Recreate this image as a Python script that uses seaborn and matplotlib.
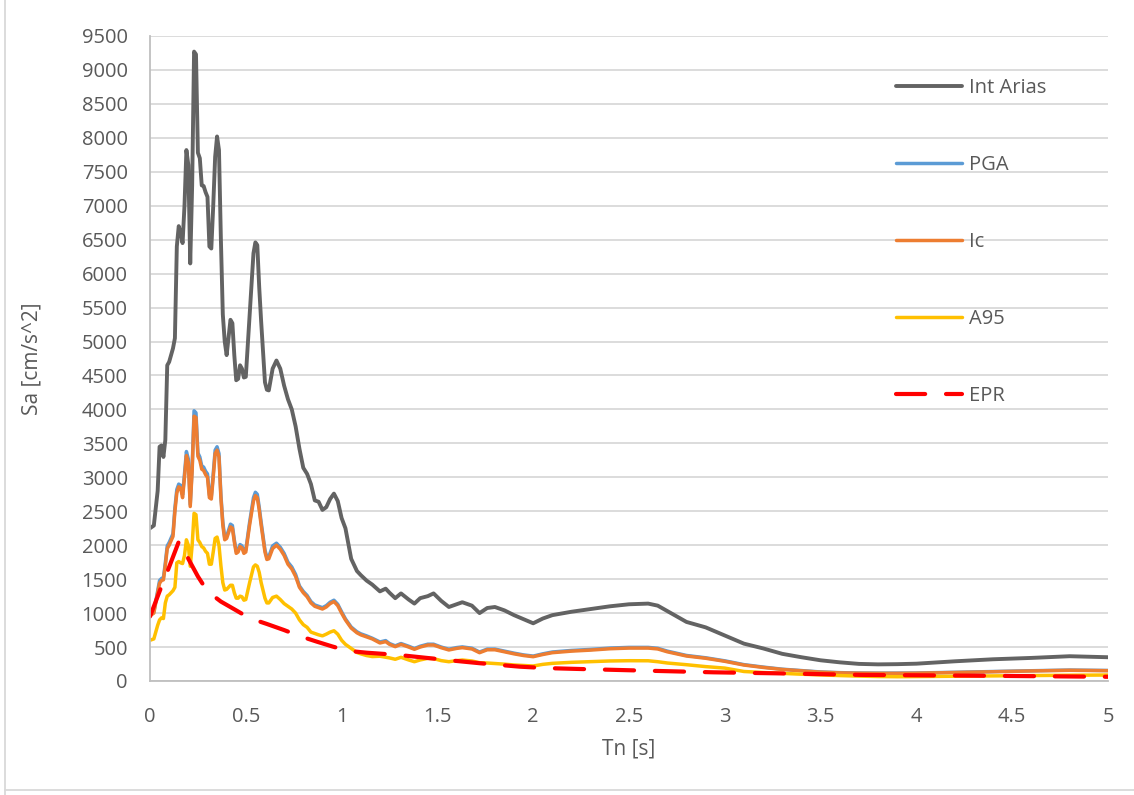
import matplotlib
matplotlib.use("Agg")
import matplotlib.pyplot as plt
import seaborn as sns
from matplotlib.lines import Line2D

# Spectral acceleration vs. period
Tn = [0, 0.02, 0.04, 0.05, 0.06, 0.07, 0.08, 0.09, 0.10, 0.12, 0.13, 0.14, 0.15, 0.16,
      0.17, 0.18, 0.19, 0.20, 0.21, 0.22, 0.23, 0.24, 0.25, 0.26, 0.27, 0.28, 0.29,
      0.30, 0.31, 0.32, 0.33, 0.34, 0.35, 0.36, 0.37, 0.38, 0.39, 0.40, 0.42, 0.43,
      0.44, 0.45, 0.46, 0.47, 0.48, 0.49, 0.50, 0.52, 0.54, 0.55, 0.56, 0.57, 0.58,
      0.60, 0.61, 0.62, 0.64, 0.66, 0.68, 0.70, 0.72, 0.74, 0.76, 0.78, 0.80, 0.82,
      0.84, 0.86, 0.88, 0.90, 0.92, 0.94, 0.96, 0.98, 1.00, 1.02, 1.05, 1.08, 1.10,
      1.13, 1.16, 1.20, 1.23, 1.25, 1.28, 1.31, 1.35, 1.38, 1.41, 1.45, 1.48, 1.52,
      1.56, 1.60, 1.63, 1.68, 1.72, 1.76, 1.80, 1.85, 1.90, 1.95, 2.00, 2.05, 2.10,
      2.20, 2.30, 2.40, 2.50, 2.60, 2.65, 2.70, 2.80, 2.90, 3.00, 3.10, 3.20, 3.30,
      3.40, 3.50, 3.60, 3.70, 3.80, 3.90, 4.00, 4.20, 4.40, 4.60, 4.80, 5.00]

int_arias = [2250, 2290, 2800, 3450, 3470, 3300, 3550, 4650, 4700, 4900, 5050, 6400, 6700,
             6600, 6450, 7000, 7820, 7600, 6150, 7300, 9270, 9230, 7780, 7700, 7300, 7290,
             7200, 7130, 6400, 6370, 7000, 7720, 8020, 7820, 6500, 5400, 5000, 4800, 5320,
             5270, 4800, 4430, 4450, 4650, 4600, 4470, 4480, 5400, 6300, 6460, 6420, 5800,
             5300, 4400, 4290, 4280, 4600, 4720, 4600, 4350, 4150, 4000, 3750, 3420, 3140,
             3050, 2900, 2660, 2640, 2520, 2560, 2680, 2760, 2650, 2400, 2250, 1800, 1620,
             1560, 1480, 1420, 1320, 1360, 1300, 1220, 1290, 1200, 1140, 1220, 1250, 1290,
             1180, 1090, 1130, 1160, 1110, 1000, 1075, 1090, 1040, 970, 910, 850, 920, 970,
             1020, 1060, 1100, 1130, 1140, 1110, 1030, 870, 790, 670, 550, 480, 400, 350,
             305, 275, 252, 245, 248, 255, 290, 320, 340, 365, 350]

pga = [980, 1020, 1330, 1480, 1510, 1520, 1740, 1990, 2040, 2170, 2550, 2820, 2900, 2880,
       2740, 3050, 3380, 3270, 2600, 3150, 3980, 3950, 3360, 3300, 3170, 3150, 3090, 3050,
       2740, 2720, 3050, 3400, 3450, 3350, 2740, 2340, 2110, 2130, 2310, 2290, 2080, 1910,
       1930, 2010, 1990, 1910, 1930, 2340, 2700, 2780, 2750, 2560, 2340, 1930, 1820, 1830,
       1990, 2030, 1970, 1880, 1750, 1680, 1570, 1400, 1320, 1260, 1170, 1120, 1100, 1080,
       1110, 1160, 1190, 1130, 1020, 915, 795, 725, 695, 665, 630, 575, 595, 552, 518, 552,
       512, 478, 512, 542, 542, 500, 468, 492, 502, 483, 427, 470, 470, 440, 410, 384, 367,
       400, 427, 450, 465, 485, 495, 495, 482, 440, 376, 342, 297, 241, 205, 174, 154, 133,
       123, 118, 116, 116, 118, 128, 140, 151, 161, 155]

ic = [960, 1000, 1300, 1440, 1480, 1490, 1700, 1950, 2000, 2130, 2500, 2770, 2860, 2840,
      2700, 3000, 3320, 3220, 2570, 3100, 3900, 3880, 3310, 3250, 3120, 3100, 3040, 3000,
      2700, 2680, 3000, 3350, 3400, 3300, 2700, 2300, 2080, 2100, 2270, 2250, 2050, 1880,
      1900, 1980, 1960, 1880, 1900, 2300, 2650, 2730, 2700, 2520, 2300, 1900, 1790, 1800,
      1950, 2000, 1940, 1850, 1720, 1650, 1540, 1380, 1300, 1240, 1150, 1100, 1080, 1060,
      1090, 1140, 1170, 1110, 1000, 900, 780, 710, 680, 650, 620, 560, 580, 540, 506, 540,
      500, 467, 500, 530, 530, 490, 457, 480, 491, 472, 417, 460, 460, 430, 400, 375, 358,
      390, 417, 440, 455, 475, 485, 485, 472, 430, 368, 335, 290, 235, 200, 170, 150, 130,
      120, 115, 113, 113, 115, 125, 137, 148, 158, 152]

a95 = [600, 620, 820, 900, 930, 920, 1150, 1250, 1270, 1330, 1380, 1740, 1760, 1740, 1730,
       1850, 2080, 2000, 1690, 2000, 2470, 2450, 2080, 2040, 1980, 1960, 1910, 1880, 1720,
       1720, 1900, 2100, 2120, 2000, 1700, 1450, 1340, 1350, 1410, 1410, 1300, 1220, 1220,
       1250, 1240, 1190, 1200, 1450, 1680, 1710, 1690, 1600, 1450, 1220, 1150, 1150, 1230,
       1250, 1200, 1140, 1100, 1060, 1000, 900, 830, 790, 720, 700, 680, 665, 690, 720, 740,
       690, 600, 540, 480, 420, 400, 375, 360, 365, 350, 340, 320, 349, 310, 284, 310, 334,
       330, 300, 284, 300, 309, 295, 270, 265, 258, 248, 236, 228, 221, 245, 260, 275, 285,
       295, 299, 298, 284, 265, 240, 212, 190, 140, 125, 112, 100, 90, 80, 72, 66, 63, 65,
       70, 75, 80, 85, 88]

epr_T = [0, 0.05, 0.10, 0.15, 0.17, 0.20, 0.25, 0.30, 0.37, 0.45, 0.52, 0.61, 0.70, 0.78,
         0.87, 0.95, 1.03, 1.13, 1.30, 1.55, 1.72, 1.93, 2.07, 2.24, 2.59, 2.94, 3.27,
         3.71, 4.23, 5.00]
epr = [950, 1320, 1680, 2050, 2030, 1800, 1540, 1320, 1170, 1040, 925, 840, 750, 663, 580,
       510, 445, 417, 383, 309, 262, 211, 190, 177, 152, 128, 113, 90, 80, 62]

x_ticks = [0, 0.5, 1, 1.5, 2, 2.5, 3, 3.5, 4, 4.5, 5]
x_tick_labels = ["0", "0.5", "1", "1.5", "2", "2.5", "3", "3.5", "4", "4.5", "5"]
y_ticks = list(range(0, 9501, 500))

TEXT = "#595959"
GRID = "#d9d9d9"
C_ARIAS, C_PGA, C_IC, C_A95, C_EPR = "#636363", "#5b9bd5", "#ed7d31", "#ffc000", "#ff0000"
LW_ARIAS, LW_SERIES, LW_EPR = 2.8, 2.5, 3.0

sns.set_theme(style="white")
plt.rcParams["font.family"] = ["Open Sans", "DejaVu Sans"]

fig = plt.figure(figsize=(11.34, 7.95), dpi=100)
ax = fig.add_axes([150 / 1134, 1 - 681 / 795, 958 / 1134, 645 / 795])

sns.lineplot(x=Tn, y=int_arias, ax=ax, color=C_ARIAS, lw=LW_ARIAS, label="Int Arias")
sns.lineplot(x=Tn, y=pga, ax=ax, color=C_PGA, lw=LW_SERIES, label="PGA")
sns.lineplot(x=Tn, y=ic, ax=ax, color=C_IC, lw=LW_SERIES, label="Ic")
sns.lineplot(x=Tn, y=a95, ax=ax, color=C_A95, lw=LW_SERIES, label="A95")
sns.lineplot(x=epr_T, y=epr, ax=ax, color=C_EPR, lw=LW_EPR, label="EPR")
ax.lines[-1].set_dashes((7, 5))
ax.lines[-1].set_dash_capstyle("round")

ax.set_xlim(0, 5)
ax.set_ylim(0, 9500)
ax.set_xticks(x_ticks)
ax.set_xticklabels(x_tick_labels)
ax.set_yticks(y_ticks)
ax.set_yticklabels([str(v) for v in y_ticks])
ax.grid(axis="y", color=GRID, lw=1.3)
ax.grid(axis="x", visible=False)
ax.set_axisbelow(True)
for side in ["top", "right"]:
    ax.spines[side].set_visible(False)
for side in ["left", "bottom"]:
    ax.spines[side].set_color("#bfbfbf")
    ax.spines[side].set_linewidth(1.3)

ax.tick_params(axis="y", length=0, pad=16, labelsize=14.5, labelcolor=TEXT)
ax.tick_params(axis="x", length=0, pad=19, labelsize=14.5, labelcolor=TEXT)

ax.set_xlabel("Tn [s]", fontsize=15, color=TEXT, labelpad=8)
ax.set_ylabel("Sa [cm/s^2]", fontsize=15, color=TEXT, labelpad=28)

handles = [
    Line2D([], [], color=C_ARIAS, lw=LW_ARIAS),
    Line2D([], [], color=C_PGA, lw=LW_SERIES),
    Line2D([], [], color=C_IC, lw=LW_SERIES),
    Line2D([], [], color=C_A95, lw=LW_SERIES),
    Line2D([], [], color=C_EPR, lw=LW_EPR, dashes=(7, 5), dash_capstyle="round"),
]
ax.legend(handles, ["Int Arias", "PGA", "Ic", "A95", "EPR"],
          loc="upper left", bbox_to_anchor=(0.77, 0.948), frameon=False,
          fontsize=14.5, labelcolor=TEXT, handlelength=3.3, handletextpad=0.35,
          labelspacing=2.84, borderaxespad=0)

# light frame of the chart area
fig.add_artist(Line2D([5 / 1134, 5 / 1134], [0, 1], color="#d9d9d9", lw=1.3,
                      transform=fig.transFigure))
fig.add_artist(Line2D([5 / 1134, 1], [1 - 790 / 795, 1 - 790 / 795], color="#d9d9d9",
                      lw=1.3, transform=fig.transFigure))

fig.savefig("out.png", dpi=100)
